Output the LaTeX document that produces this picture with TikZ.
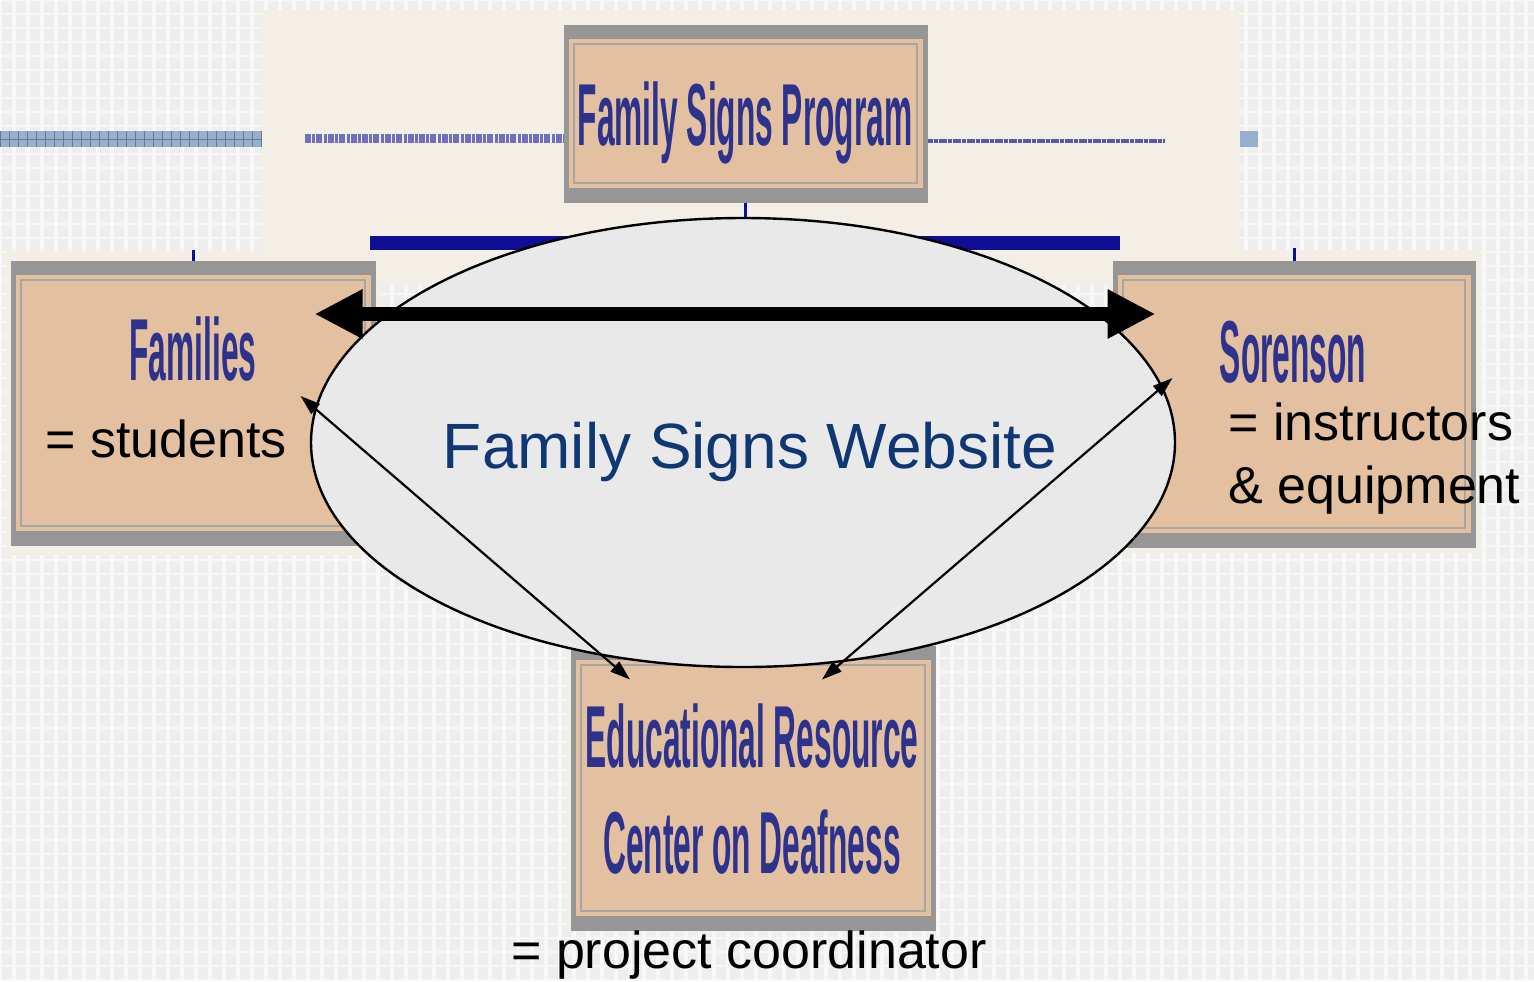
\documentclass[tikz,border=0pt]{standalone}
\usepackage{fontspec}
\setmainfont{Liberation Sans}
\newfontfamily\signfont[FakeStretch=0.36]{Liberation Sans}
\usetikzlibrary{shapes.geometric,arrows.meta}
\definecolor{bggray}{RGB}{238,238,238}
\definecolor{cream}{RGB}{243,239,230}
\definecolor{tan}{RGB}{226,192,160}
\definecolor{framegray}{RGB}{150,150,150}
\definecolor{signblue}{RGB}{45,50,140}
\definecolor{navy}{RGB}{15,15,150}
\definecolor{stripblue}{RGB}{150,175,205}
\definecolor{ellgray}{RGB}{233,233,233}
\definecolor{webblue}{RGB}{15,55,115}

\begin{document}
\begin{tikzpicture}[x=0.5pt,y=-0.5pt]
\tikzset{signbox/.style={fill=tan, draw=framegray, line width=2.5pt, inner sep=0pt,
  path picture={
    \fill[framegray] (path picture bounding box.north west) rectangle ([yshift=-6pt]path picture bounding box.north east);
    \fill[framegray] (path picture bounding box.south west) rectangle ([yshift=6pt]path picture bounding box.south east);
    \draw[framegray!85, line width=1pt] ([shift={(4pt,-8.5pt)}]path picture bounding box.north west) rectangle ([shift={(-4pt,8.5pt)}]path picture bounding box.south east);}}}
\tikzset{signtext/.style={text=signblue, font=\signfont\bfseries\fontsize{44}{53}\selectfont, inner sep=0pt, anchor=base}}
\tikzset{roletext/.style={font=\fontsize{26}{31}\selectfont, inner sep=0pt, anchor=base west}}
\tikzset{linkarrow/.style={line width=1.1pt, {Triangle[length=10pt,width=6.5pt]}-{Triangle[length=10pt,width=6.5pt]}}}
\useasboundingbox (0,0) rectangle (1534,981);
\fill[bggray] (0,0) rectangle (1534,981);
\foreach \x in {0,14,...,1534} \draw[white!60!bggray, line width=2pt] (\x,0) -- (\x,981);
\foreach \y in {0,14,...,981} \draw[white!50!bggray, line width=0.8pt] (0,\y) -- (1534,\y);
\fill[stripblue] (0,131) rectangle (262,147);
\foreach \x in {0,9,...,262} \draw[stripblue!70!black, line width=0.4pt] (\x,131) -- (\x,147);
\draw[stripblue!70!black, line width=0.4pt] (0,139) -- (262,139);
\fill[stripblue] (1240,131) rectangle (1258,147);
\fill[cream] (262,10) rectangle (1240,285);
\draw[navy!60, line width=4.5pt, dash pattern=on 3pt off 0.7pt on 1.5pt off 0.5pt] (305,138) -- (566,138);
\draw[navy!70, line width=2pt, dash pattern=on 4pt off 0.6pt on 2pt off 0.4pt] (925,141) -- (1165,141);
\node[signbox, minimum width=179.5pt, minimum height=86.5pt] (prog) at (745.5,113.5) {};
\draw[navy, line width=1.5pt] (prog.south) -- ++(0,36);
\fill[navy] (370,236) rectangle (1120,250);
\fill[cream] (6,251) rectangle (381,555);
\fill[cream] (1111,250) rectangle (1481,553);
\fill[cream] (567,640) rectangle (936,932);
\node[signbox, minimum width=180pt, minimum height=140pt] (fam) at (193,403) {};
\node[signbox, minimum width=179pt, minimum height=141pt] (sor) at (1294,404) {};
\node[signbox, minimum width=180pt, minimum height=140pt] (ercd) at (753,788) {};
\draw[navy, line width=1.5pt] (fam.north) -- ++(0,-11);
\draw[navy, line width=1.5pt] (sor.north) -- ++(0,-13);
\node[signtext] (progtext) at (745,145) {Family Signs Program};
\node[signtext] (famtext) at (193,380) {Families};
\node[signtext] (sortext) at (1293,382) {Sorenson};
\node[signtext] (ercdA) at (752,767) {Educational Resource};
\node[signtext] (ercdB) at (752,873) {Center on Deafness};
\node[ellipse, draw, fill=ellgray, line width=1.2pt, inner sep=0pt, minimum width=432pt, minimum height=224.5pt] (web) at (743,442.5) {};
\node[text=webblue, font=\fontsize{32}{38}\selectfont, inner sep=0pt, anchor=base] (webtext) at (750,468) {Family Signs Website};
\node[roletext] (famrole) at (45,457) {= students};
\node[roletext] (sorA) at (1228,440) {= instructors};
\node[roletext] (sorB) at (1228,503) {\& equipment};
\node[roletext, anchor=base] (ercdrole) at (749,968) {= project coordinator};
\draw[line width=7pt, {Triangle[length=24pt,width=23pt]}-{Triangle[length=24pt,width=23pt]}]
  ([shift={(-30.5pt,44.5pt)}]fam.east) -- ([shift={(21.5pt,45pt)}]sor.west);
\draw[linkarrow] ([shift={(-37.5pt,3.5pt)}]fam.east) -- ([shift={(-61.5pt,-17pt)}]ercd.north);
\draw[linkarrow] ([shift={(30pt,13pt)}]sor.west) -- ([shift={(34.5pt,-17pt)}]ercd.north);
\end{tikzpicture}
\end{document}
